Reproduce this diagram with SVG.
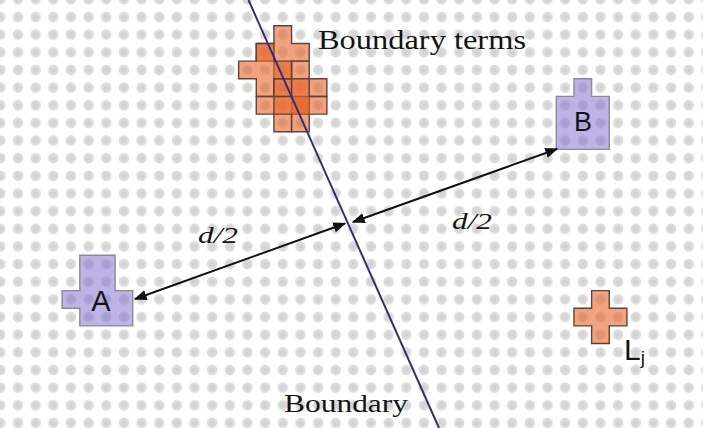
<svg xmlns="http://www.w3.org/2000/svg" xmlns:xlink="http://www.w3.org/1999/xlink" width="703" height="428" viewBox="0 0 703 428">
<style>
.serif{font-family:"Liberation Serif","Times New Roman",serif;fill:#141414}
.sans{font-family:"Liberation Sans",Arial,sans-serif;fill:#141414}
.orange{fill:#e86428;fill-opacity:0.6;stroke:#5e4438;stroke-width:1.4;stroke-linejoin:miter}
.purple{fill:#7b68d0;fill-opacity:0.5;stroke:#8c8898;stroke-width:1.4}
.conn{stroke:#111;stroke-width:2;fill:none}
</style>
<defs>
<pattern id="dots" patternUnits="userSpaceOnUse" x="9.175" y="8.175" width="17.65" height="17.65">
<circle cx="8.825" cy="8.825" r="5.3" fill="#dcdcdc"/>
<circle cx="8.825" cy="8.825" r="2.8" fill="#d3d3d3"/>
</pattern>
<path id="cross" d="M0,-17.65 H17.65 V0 H35.3 V17.65 H17.65 V35.3 H0 V17.65 H-17.65 V0 H0 Z"/>
<marker id="ah" viewBox="0 0 10 10" refX="9" refY="5" markerWidth="6.5" markerHeight="6.5" orient="auto-start-reverse" markerUnits="strokeWidth">
<path d="M0,1 L10,5 L0,9 Z" fill="#111"/>
</marker>
</defs>
<rect width="703" height="428" fill="#ffffff"/>
<rect width="703" height="428" fill="url(#dots)"/>

<g id="boundary-terms">
<use xlink:href="#cross" class="orange" x="273.925" y="43.475"/>
<use xlink:href="#cross" class="orange" x="256.275" y="61.125"/>
<use xlink:href="#cross" class="orange" x="291.575" y="78.775"/>
<use xlink:href="#cross" class="orange" x="273.925" y="96.425"/>
<use xlink:href="#cross" class="orange" x="291.575" y="96.425"/>
<text class="serif" x="318" y="49" font-size="28" textLength="208" lengthAdjust="spacingAndGlyphs">Boundary terms</text>
</g>

<g id="node-B">
<path class="purple" d="M574,78.8 H591.6 V96.4 H609.3 V149.4 H556.3 V96.4 H574 Z"/>
<text class="sans" x="583" y="131" font-size="27" text-anchor="middle">B</text>
</g>

<g id="node-A">
<path class="purple" d="M79.8,255.3 H115.1 V290.6 H132.7 V325.9 H79.8 V308.2 H62.1 V290.6 H79.8 Z"/>
<text class="sans" x="101" y="311" font-size="29" text-anchor="middle">A</text>
</g>

<g id="node-Lj">
<use xlink:href="#cross" class="orange" x="591.625" y="308.225"/>
<text class="sans" x="624" y="360" font-size="30">L<tspan font-size="19" dy="4">j</tspan></text>
</g>

<g id="boundary">
<line x1="248.5" y1="0" x2="439" y2="428" stroke="#2f2f78" stroke-width="2"/>
<text class="serif" x="284" y="412" font-size="26" textLength="124" lengthAdjust="spacingAndGlyphs">Boundary</text>
</g>

<g id="connectors">
<line class="conn" x1="345" y1="223.5" x2="135" y2="299" marker-start="url(#ah)" marker-end="url(#ah)"/>
<line class="conn" x1="353" y1="222" x2="557" y2="149" marker-start="url(#ah)" marker-end="url(#ah)"/>
<text class="serif" x="198" y="243" font-size="24" font-style="italic" textLength="40" lengthAdjust="spacingAndGlyphs">d/2</text>
<text class="serif" x="452" y="229" font-size="24" font-style="italic" textLength="40" lengthAdjust="spacingAndGlyphs">d/2</text>
</g>
</svg>
